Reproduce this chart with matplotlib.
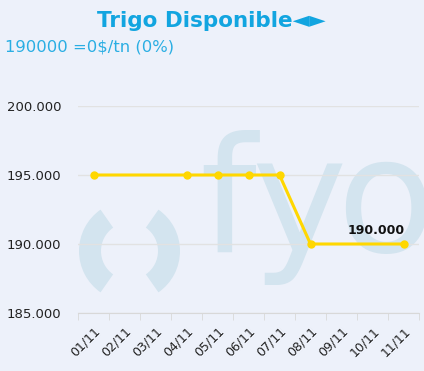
import matplotlib
matplotlib.use("Agg")
import matplotlib.pyplot as plt
from matplotlib.patches import Wedge
import numpy as np

categories = ["01/11", "02/11", "03/11", "04/11", "05/11", "06/11",
              "07/11", "08/11", "09/11", "10/11", "11/11"]
values = [195000, None, None, 195000, 195000, 195000, 195000,
          190000, None, None, 190000]
y_ticks = [185000, 190000, 195000, 200000]
y_tick_labels = ["185.000", "190.000", "195.000", "200.000"]
title = "Trigo Disponible◄►"
subtitle = "190000 =0$/tn (0%)"
last_label = "190.000"

bg = "#EDF1FA"
W, H = 424, 371
fig = plt.figure(figsize=(W / 100, H / 100), dpi=100, facecolor=bg)

# background layer in pixel coordinates for the watermark
bgax = fig.add_axes([0, 0, 1, 1], zorder=0)
bgax.set_xlim(0, W)
bgax.set_ylim(H, 0)
bgax.axis("off")
wm = "#D3E4EF"
for ch, px in [("f", 199), ("y", 251), ("o", 336)]:
    bgax.text(px, 252, ch, fontsize=116, color=wm, ha="left", va="baseline",
              fontfamily="DejaVu Sans", clip_on=True)
cx, cy = 129.5, 251
for t1, t2 in [(125, 235), (-55, 55)]:
    bgax.add_patch(Wedge((cx, cy), 50.5, t1, t2, width=22, color=wm, lw=0))

ax = fig.add_axes([78 / W, 1 - 313 / H, (419 - 78) / W, (313 - 106) / H], zorder=1)
ax.set_facecolor("none")

x = np.arange(len(categories))
xs = [i for i, v in zip(x, values) if v is not None]
ys = [v for v in values if v is not None]

ax.plot(xs, ys, color="#FFD700", lw=2.2, marker="o", ms=5, zorder=3,
        solid_joinstyle="round")
ax.annotate(last_label, (xs[-1], ys[-1]), xytext=(1, 5), textcoords="offset points",
            ha="right", va="bottom", fontsize=9, fontweight="bold", color="#111111")

ax.set_xlim(-0.5, len(categories) - 0.5)
ax.set_ylim(185000, 200000)
ax.set_yticks(y_ticks)
ax.set_yticklabels(y_tick_labels, fontsize=9.5, color="#222222")
ax.set_xticks(x)
ax.set_xticklabels(categories, rotation=45, ha="right", rotation_mode="anchor",
                   fontsize=9, color="#222222")
ax.set_xticks(np.arange(-0.5, len(categories), 1), minor=True)
ax.tick_params(axis="x", which="major", length=0, pad=8)
ax.tick_params(axis="x", which="minor", length=5, color="#D8D8D8", direction="out")
ax.tick_params(axis="y", length=0, pad=12)
ax.grid(axis="y", color="#E2E2E2", lw=1)
for s in ["top", "right", "left"]:
    ax.spines[s].set_visible(False)
ax.spines["bottom"].set_color("#D8D8D8")
ax.set_axisbelow(True)

fig.text(211 / W, 1 - 21 / H, title, ha="center", va="center", fontsize=15.5,
         fontweight="bold", color="#12A5E0")
fig.text(5 / W, 1 - 47 / H, subtitle, ha="left", va="center", fontsize=11.8,
         color="#2AAEE3")

fig.savefig("out.png", dpi=100, facecolor=bg)
